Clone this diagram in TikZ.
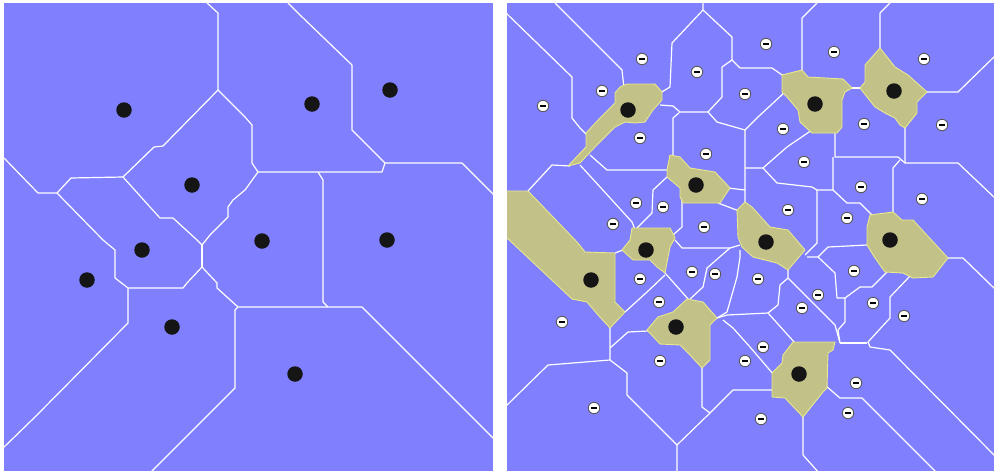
\documentclass[tikz,border=0pt]{standalone}
\definecolor{field}{HTML}{8080FF}
\definecolor{poolfill}{HTML}{C2C288}
\definecolor{poolrim}{HTML}{E8E88C}
\definecolor{siteink}{HTML}{151515}
\definecolor{probering}{HTML}{5A5A5A}
\tikzset{
  cellline/.style={draw=white, line width=1.2pt, line join=round},
  pool/.style={fill=poolfill, draw=poolrim, line width=0.9pt, line join=round},
  site/.style={circle, fill=siteink, inner sep=0pt, minimum size=15.5pt},
  probe/.style={circle, draw=probering, line width=0.9pt, fill=white, inner sep=0pt,
                minimum size=11.5pt,
                path picture={\fill[black] (-2.6pt,-1.2pt) rectangle (2.6pt,1.2pt);}},
}
\begin{document}
\begin{tikzpicture}[x=1pt,y=-1pt]
\useasboundingbox (0,0) rectangle (994,474);
\fill[white] (0,0) rectangle (994,474);

% ---------------- left panel: plain cells ----------------
\fill[field] (4,3) rectangle (493,471);
\begin{scope}
  \clip (4,3) rectangle (493,471);
  \draw[cellline] (207,3) -- (218,13) -- (218,90);
  \draw[cellline] (218,90) -- (163,146) -- (154,147) -- (123,177);
  \draw[cellline] (4,158) -- (38,193) -- (57,193) -- (71,178) -- (123,177);
  \draw[cellline] (57,193) -- (103,240) -- (115,250) -- (115,278) -- (128,288);
  \draw[cellline] (123,177) -- (150,207) -- (160,218) -- (173,218) -- (197,240) -- (202,245);
  \draw[cellline] (218,90) -- (245,117) -- (252,125) -- (252,163) -- (258,172);
  \draw[cellline] (258,172) -- (382,172) -- (385,163);
  \draw[cellline] (288,3) -- (300,15) -- (352,65) -- (352,130) -- (385,163) -- (462,163) -- (495,196);
  \draw[cellline] (318,172) -- (323,180) -- (323,302) -- (328,307);
  \draw[cellline] (258,172) -- (245,190) -- (233,200) -- (228,207) -- (228,217) -- (210,235) -- (202,245);
  \draw[cellline] (202,245) -- (202,267);
  \draw[cellline] (128,288) -- (183,288) -- (187,283) -- (202,267);
  \draw[cellline] (202,267) -- (217,283) -- (217,288) -- (238,307) -- (362,307) -- (495,440);
  \draw[cellline] (238,307) -- (235,310) -- (235,388) -- (150,473);
  \draw[cellline] (128,288) -- (128,323) -- (35,417) -- (2,449);
\end{scope}

\node[site] (a1)  at (124,110) {};
\node[site] (a2)  at (312,104) {};
\node[site] (a3)  at (390,90)  {};
\node[site] (a4)  at (192,185) {};
\node[site] (a5)  at (262,241) {};
\node[site] (a6)  at (387,240) {};
\node[site] (a7)  at (142,250) {};
\node[site] (a8)  at (87,280)  {};
\node[site] (a9)  at (172,327) {};
\node[site] (a10) at (295,374) {};

% ---------------- right panel: refined cells ----------------
\fill[field] (507,3) rectangle (994,471);
\begin{scope}
  \clip (507,3) rectangle (994,471);
  \draw[cellline] (505,12) -- (572,77) -- (572,118) -- (580,128) -- (588,136);
  \draw[cellline] (555,3) -- (622,70) -- (624,88);
  \draw[cellline] (703,3) -- (703,10) -- (672,43) -- (670,87) -- (660,93);
  \draw[cellline] (703,10) -- (732,37) -- (732,60) -- (722,67) -- (722,97) -- (708,112);
  \draw[cellline] (732,60) -- (740,68) -- (772,68) -- (785,77);
  \draw[cellline] (660,105) -- (673,106) -- (680,112) -- (708,112) -- (717,122) -- (745,130);
  \draw[cellline] (680,112) -- (673,118) -- (673,158);
  \draw[cellline] (590,155) -- (607,170) -- (670,170);
  \draw[cellline] (528,191) -- (552,165) -- (570,166);
  \draw[cellline] (580,165) -- (632,222) -- (636,232);
  \draw[cellline] (667,177) -- (653,190) -- (652,213) -- (637,228);
  \draw[cellline] (682,200) -- (682,227) -- (673,235);
  \draw[cellline] (817,3) -- (802,18) -- (802,72);
  \draw[cellline] (890,3) -- (880,13) -- (880,50);
  \draw[cellline] (850,88) -- (862,88);
  \draw[cellline] (925,92) -- (958,92) -- (996,55);
  \draw[cellline] (785,92) -- (758,117) -- (745,130) -- (745,204);
  \draw[cellline] (835,130) -- (835,157) -- (898,157) -- (905,163);
  \draw[cellline] (905,125) -- (905,163) -- (958,163) -- (996,199);
  \draw[cellline] (812,130) -- (787,147) -- (763,168) -- (745,168);
  \draw[cellline] (763,168) -- (777,183) -- (812,187) -- (817,190) -- (833,190);
  \draw[cellline] (833,157) -- (833,190) -- (847,203) -- (860,203) -- (872,215);
  \draw[cellline] (900,160) -- (893,168) -- (893,214);
  \draw[cellline] (728,188) -- (745,190);
  \draw[cellline] (817,190) -- (817,243) -- (805,255);
  \draw[cellline] (807,257) -- (818,257) -- (828,247) -- (867,245);
  \draw[cellline] (818,257) -- (835,273) -- (837,298) -- (845,298);
  \draw[cellline] (845,298) -- (860,287) -- (872,287) -- (887,272);
  \draw[cellline] (845,298) -- (845,322) -- (838,330) -- (840,343);
  \draw[cellline] (910,276) -- (890,297) -- (890,318) -- (868,342) -- (870,347) -- (890,350) -- (996,457);
  \draw[cellline] (840,343) -- (867,343);
  \draw[cellline] (946,258) -- (963,258) -- (996,290);
  \draw[cellline] (788,268) -- (788,278) -- (780,285) -- (778,305) -- (768,313) -- (727,315) -- (717,318);
  \draw[cellline] (788,278) -- (835,325) -- (840,343);
  \draw[cellline] (768,313) -- (795,343);
  \draw[cellline] (718,203) -- (739,211);
  \draw[cellline] (675,240) -- (682,248) -- (730,248) -- (740,245);
  \draw[cellline] (730,248) -- (707,268) -- (703,287) -- (690,299);
  \draw[cellline] (740,250) -- (740,257) -- (737,277) -- (727,312) -- (717,318);
  \draw[cellline] (665,273) -- (689,300);
  \draw[cellline] (625,312) -- (647,292) -- (665,275);
  \draw[cellline] (610,328) -- (610,360) -- (548,365) -- (505,407);
  \draw[cellline] (610,348) -- (628,332) -- (648,331);
  \draw[cellline] (610,360) -- (627,373) -- (627,395) -- (677,445) -- (677,474);
  \draw[cellline] (677,445) -- (710,413) -- (702,407) -- (702,366);
  \draw[cellline] (710,413) -- (733,390) -- (774,390);
  \draw[cellline] (723,320) -- (733,328) -- (750,347) -- (774,375);
  \draw[cellline] (803,415) -- (803,455) -- (820,474);
  \draw[cellline] (826,386) -- (840,398) -- (862,398) -- (938,474);
  \draw[cellline] (615,253) -- (623,250);

  % merged regions round each site
  \draw[pool] (568,166) -- (586,147) -- (586,133) -- (600,118) -- (615,103) -- (615,93) -- (620,87)
    -- (627,84) -- (655,84) -- (662,92) -- (662,100) -- (653,110) -- (645,122) -- (635,123)
    -- (625,122) -- (615,127) -- (595,147) -- (580,163) -- cycle;
  \draw[pool] (782,75) -- (802,70) -- (808,77) -- (843,79) -- (852,88) -- (845,92) -- (842,100)
    -- (842,127) -- (837,133) -- (812,133) -- (800,122) -- (798,110) -- (787,97) -- (782,92) -- cycle;
  \draw[pool] (880,48) -- (895,67) -- (908,75) -- (927,92) -- (917,102) -- (917,113) -- (905,128)
    -- (900,125) -- (895,118) -- (885,113) -- (875,107) -- (867,97) -- (860,88) -- (865,82) -- (865,65) -- cycle;
  \draw[pool] (670,155) -- (680,157) -- (690,168) -- (715,172) -- (730,188) -- (720,203) -- (683,203)
    -- (680,197) -- (680,188) -- (667,177) -- (667,170) -- cycle;
  \draw[pool] (745,202) -- (752,207) -- (770,227) -- (788,230) -- (805,250) -- (788,270) -- (777,263)
    -- (753,257) -- (742,247) -- (738,237) -- (737,210) -- cycle;
  \draw[pool] (632,228) -- (670,228) -- (675,238) -- (670,247) -- (665,273) -- (657,267) -- (650,260)
    -- (633,260) -- (622,250) -- (630,240) -- cycle;
  \draw[pool] (503,191) -- (528,191) -- (578,243) -- (585,252) -- (615,253) -- (615,302) -- (625,312)
    -- (610,328) -- (598,315) -- (587,302) -- (572,299) -- (507,238) -- (503,238) -- cycle;
  \draw[pool] (687,299) -- (703,302) -- (717,318) -- (710,325) -- (710,360) -- (702,368) -- (690,355)
    -- (680,345) -- (660,344) -- (647,330) -- (658,317) -- (673,312) -- cycle;
  \draw[pool] (870,215) -- (893,212) -- (902,220) -- (913,220) -- (948,258) -- (933,277) -- (913,278)
    -- (903,273) -- (885,272) -- (875,258) -- (867,245) -- (867,227) -- cycle;
  \draw[pool] (793,342) -- (835,342) -- (833,350) -- (828,353) -- (827,388) -- (823,392) -- (803,417)
    -- (785,398) -- (772,397) -- (772,373) -- (782,363) -- (783,355) -- cycle;
\end{scope}

\node[site] (b1)  at (628,110) {};
\node[site] (b2)  at (815,104) {};
\node[site] (b3)  at (894,91)  {};
\node[site] (b4)  at (696,185) {};
\node[site] (b5)  at (766,242) {};
\node[site] (b6)  at (890,240) {};
\node[site] (b7)  at (646,250) {};
\node[site] (b8)  at (591,280) {};
\node[site] (b9)  at (676,327) {};
\node[site] (b10) at (799,374) {};

% probe points (one per small cell)
\foreach \p [count=\i] in {(642,59),(766,44),(834,52),(924,59),(543,106),(602,91),(697,72),(745,94),
    (864,124),(942,125),(640,138),(783,129),(706,154),(804,162),(861,187),(922,199),(636,203),
    (663,207),(613,224),(788,210),(847,218),(704,227),(692,272),(715,274),(640,279),(758,279),
    (854,271),(818,295),(802,308),(873,303),(659,302),(904,316),(562,322),(763,347),(660,361),
    (745,361),(856,383),(848,413),(594,408),(761,419)}
  \node[probe] (m\i) at \p {};

\end{tikzpicture}
\end{document}
